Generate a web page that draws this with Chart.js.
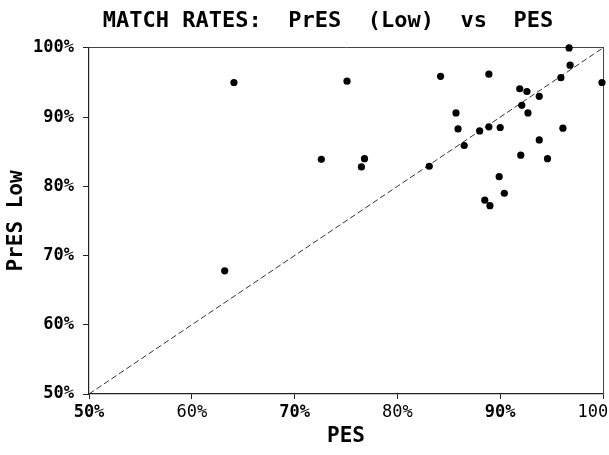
<!DOCTYPE html>
<html>
<head>
<meta charset="utf-8">
<script src="https://cdn.jsdelivr.net/npm/chart.js@4/dist/chart.umd.min.js"></script>
<style>
  html, body { margin: 0; padding: 0; background: #ffffff; }
  #wrap { width: 609px; height: 455px; position: relative; background: #ffffff; }
</style>
</head>
<body>
<div id="wrap"><canvas id="c"></canvas></div>
<script>
// ---- data ----
const titleText = 'MATCH RATES:  PrES  (Low)  vs  PES';
const xAxisTitle = 'PES';
const yAxisTitle = 'PrES Low';
const xTickLabels = ['50%', '60%', '70%', '80%', '90%', '100'];
const yTickLabels = ['50%', '60%', '70%', '80%', '90%', '100%'];
const pesValues = [
  96.7, 96.8, 95.9, 99.9, 84.2, 88.9, 91.9, 92.6, 93.8, 92.1, 92.7,
  85.7, 85.9, 88.0, 88.9, 90.0, 96.1, 86.5, 93.8, 83.1, 92.0, 94.6,
  89.9, 90.4, 88.5, 89.0, 64.1, 75.1, 72.6, 76.8, 76.5, 63.2
];
const presLowValues = [
  100.0, 97.5, 95.7, 95.0, 95.9, 96.2, 94.1, 93.7, 93.0, 91.7, 90.6,
  90.6, 88.3, 88.0, 88.6, 88.5, 88.4, 85.9, 86.7, 82.9, 84.5, 84.0,
  81.4, 79.0, 78.0, 77.2, 95.0, 95.2, 83.9, 84.0, 82.8, 67.8
];
const diagX = [50, 100];
const diagY = [50, 100];
const axisMin = 50, axisMax = 100, axisStep = 10;

// ---- chart ----
const FAMILY = "'DejaVu Sans Mono', 'Liberation Mono', monospace";
const scatterPts = pesValues.map((x, i) => ({ x: x, y: presLowValues[i] }));
const diagPts = diagX.map((x, i) => ({ x: x, y: diagY[i] }));

new Chart(document.getElementById('c'), {
  type: 'scatter',
  data: {
    datasets: [
      {
        label: 'PrES Low vs PES',
        data: scatterPts,
        pointRadius: 3.6,
        pointHoverRadius: 3.6,
        pointBackgroundColor: '#000',
        pointBorderColor: '#000',
        pointBorderWidth: 0,
        clip: false
      },
      {
        type: 'line',
        label: 'equal',
        data: diagPts,
        borderColor: '#333',
        borderWidth: 1,
        borderDash: [6, 3],
        pointRadius: 0,
        fill: false
      }
    ]
  },
  options: {
    responsive: true,
    maintainAspectRatio: false,
    animation: false,
    layout: { padding: { left: 0, right: 6, top: 0, bottom: 0 } },
    plugins: {
      legend: { display: false },
      tooltip: { enabled: false },
      title: {
        display: true,
        text: '    ' + titleText,
        color: '#000',
        font: { family: FAMILY, size: 22, weight: 'bold' },
        padding: { top: 8.5, bottom: 13 }
      }
    },
    scales: {
      x: {
        type: 'linear', position: 'bottom',
        min: axisMin, max: axisMax,
        ticks: {
          stepSize: axisStep, autoSkip: false, maxRotation: 0, minRotation: 0,
          padding: 3, color: '#000',
          font: (ctx) => ({ family: FAMILY, size: 17, weight: (ctx.index % 2 === 0) ? 'bold' : 'normal' }),
          callback: (v, i) => (i === xTickLabels.length - 1 ? xTickLabels[i] + '  ' : xTickLabels[i])
        },
        grid: { display: true, drawOnChartArea: false, drawTicks: true, tickLength: 5, color: '#222', lineWidth: 1 },
        border: { display: true, color: '#222', width: 1.2 },
        title: {
          display: true, text: xAxisTitle, color: '#000',
          font: { family: FAMILY, size: 21, weight: 'bold' },
          padding: { top: 0, bottom: 6 }
        },
        afterFit: (s) => { s.height = 61; s.paddingRight = 0; }
      },
      y: {
        type: 'linear', position: 'left',
        min: axisMin, max: axisMax,
        ticks: {
          stepSize: axisStep, padding: 9, color: '#000',
          font: { family: FAMILY, size: 17, weight: 'bold' },
          callback: (v, i) => yTickLabels[i]
        },
        grid: { display: true, drawOnChartArea: false, drawTicks: true, tickLength: 6, color: '#222', lineWidth: 1 },
        border: { display: true, color: '#222', width: 1.2 },
        title: {
          display: true, text: yAxisTitle, color: '#000',
          font: { family: FAMILY, size: 21, weight: 'bold' },
          padding: { top: 4, bottom: 0 }
        },
        afterFit: (s) => { s.width = 89; s.paddingTop = 0; }
      },
      x2: {
        type: 'linear', position: 'top',
        min: axisMin, max: axisMax,
        ticks: { display: false },
        grid: { display: false, drawTicks: false, tickLength: 0 },
        border: { display: true, color: '#444', width: 1, dash: [7, 2] },
        afterFit: (s) => { s.height = 0; s.paddingLeft = 0; s.paddingRight = 0; }
      },
      y2: {
        type: 'linear', position: 'right',
        min: axisMin, max: axisMax,
        ticks: { display: false },
        grid: { display: false, drawTicks: false, tickLength: 0 },
        border: { display: true, color: '#444', width: 1, dash: [7, 2] },
        afterFit: (s) => { s.width = 0; s.paddingTop = 0; s.paddingBottom = 0; }
      }
    }
  }
});
</script>
</body>
</html>
